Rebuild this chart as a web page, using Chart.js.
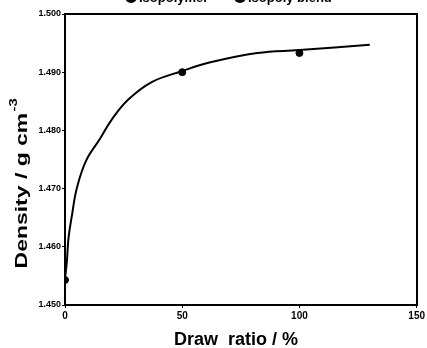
<!DOCTYPE html>
<html>
<head>
<meta charset="utf-8">
<script src="https://cdn.jsdelivr.net/npm/chart.js"></script>
<style>
  html, body { margin: 0; padding: 0; background: #fff; }
  #wrap { width: 427px; height: 348px; }
</style>
</head>
<body>
<div id="wrap"><canvas id="densityChart" width="427" height="348"></canvas></div>
<script>
// fitted curve
const curveX = [0, 0.8, 1.5, 3, 5, 9, 15, 20, 27, 37, 50, 62, 82, 100, 130];
const curveY = [1.4545, 1.4575, 1.4615, 1.4655, 1.4700, 1.4748, 1.4786, 1.4819, 1.4853, 1.4883, 1.4902, 1.4917, 1.4933, 1.4938, 1.4947];
// measured points
const pointX = [0, 50, 100];
const pointY = [1.4543, 1.4900, 1.4933];
const yTicks = [1.450, 1.460, 1.470, 1.480, 1.490, 1.500];
const xTicks = [0, 50, 100, 150];
const legendText = ["Isopolymer", "Isopoly blend"];
const yTitle = "Density / g cm";
const yTitleSup = "-3";
const xTitle = "Draw  ratio / %";

// legend at the top is clipped in the original scan, plus the axis titles
const extraText = {
  id: "extraText",
  afterDraw(chart) {
    const ctx = chart.ctx;
    ctx.save();
    ctx.fillStyle = "#000";
    ctx.font = "bold 13px Arial";
    ctx.textBaseline = "alphabetic";
    ctx.textAlign = "left";
    ctx.beginPath(); ctx.arc(131, -3, 6, 0, Math.PI * 2); ctx.fill();
    ctx.fillText(legendText[0], 139, 2);
    ctx.beginPath(); ctx.arc(240, -3, 6, 0, Math.PI * 2); ctx.fill();
    ctx.fillText(legendText[1], 248, 2);

    // y title, stretched like the scan
    ctx.save();
    ctx.translate(27, 184);
    ctx.rotate(-Math.PI / 2);
    ctx.scale(1.35, 1);
    ctx.font = "bold 17px Arial";
    const w1 = ctx.measureText(yTitle).width;
    ctx.font = "bold 11px Arial";
    const w2 = ctx.measureText(yTitleSup).width;
    const start = -(w1 + w2) / 2;
    ctx.font = "bold 17px Arial";
    ctx.fillText(yTitle, start, 0);
    ctx.font = "bold 11px Arial";
    ctx.fillText(yTitleSup, start + w1 + 1, -10);
    ctx.restore();

    // x title
    ctx.font = "bold 18px Arial";
    ctx.textAlign = "center";
    ctx.fillText(xTitle, 236, 345);
    ctx.restore();
  }
};

new Chart(document.getElementById("densityChart"), {
  type: "scatter",
  data: {
    datasets: [
      {
        type: "line",
        data: curveX.map((x, i) => ({ x: x, y: curveY[i] })),
        borderColor: "#000",
        borderWidth: 2,
        pointRadius: 0,
        tension: 0.4,
        fill: false
      },
      {
        data: pointX.map((x, i) => ({ x: x, y: pointY[i] })),
        backgroundColor: "#000",
        borderColor: "#000",
        pointRadius: 3.5
      }
    ]
  },
  options: {
    responsive: false,
    animation: false,
    layout: { padding: { top: 14, right: 7, left: 0, bottom: 0 } },
    plugins: { legend: { display: false }, tooltip: { enabled: false } },
    scales: {
      x: {
        type: "linear",
        min: 0,
        max: 150,
        afterBuildTicks: (s) => { s.ticks = xTicks.map(v => ({ value: v })); },
        afterFit: (s) => { s.height = 43; },
        border: { color: "#000", width: 2 },
        grid: { drawOnChartArea: false, color: "#000", tickLength: 3 },
        ticks: { color: "#000", font: { family: "Arial", size: 10, weight: "bold" }, padding: 2 },
        title: { display: false }
      },
      y: {
        type: "linear",
        min: 1.450,
        max: 1.500,
        afterBuildTicks: (s) => { s.ticks = yTicks.map(v => ({ value: v })); },
        afterFit: (s) => { s.width = 65; },
        border: { color: "#000", width: 2 },
        grid: { drawOnChartArea: false, color: "#000", tickLength: 3 },
        ticks: {
          color: "#000",
          font: { family: "Arial", size: 9, weight: "bold" },
          padding: 1,
          callback: (v) => v.toFixed(3)
        },
        title: { display: false }
      },
      x2: {
        type: "linear",
        position: "top",
        min: 0, max: 150,
        afterFit: (s) => { s.height = 0; },
        border: { color: "#000", width: 2 },
        grid: { display: false },
        ticks: { display: false }
      },
      y2: {
        type: "linear",
        position: "right",
        min: 1.450, max: 1.500,
        afterFit: (s) => { s.width = 0; },
        border: { color: "#000", width: 2 },
        grid: { display: false },
        ticks: { display: false }
      }
    }
  },
  plugins: [extraText]
});
</script>
</body>
</html>
